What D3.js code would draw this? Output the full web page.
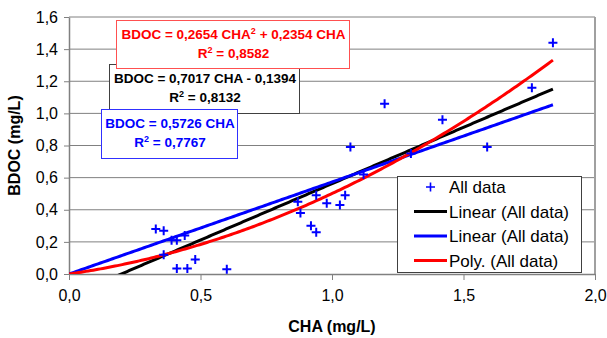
<!DOCTYPE html>
<html>
<head>
<meta charset="utf-8">
<script src="https://cdn.jsdelivr.net/npm/d3@7"></script>
<style>
  body { margin: 0; background: #fff; }
  svg { font-family: "Liberation Sans", Arial, sans-serif; }
</style>
</head>
<body>
<svg id="chart" width="607" height="338"></svg>
<script>
// measured values (CHA vs BDOC, mg/L)
var cha = [0.33, 0.36, 0.39, 0.41, 0.44, 0.36, 0.41, 0.45, 0.48, 0.60,
           0.87, 0.88, 0.92, 0.94, 0.94, 0.98, 1.03, 1.05, 1.07, 1.12,
           1.20, 1.30, 1.42, 1.59, 1.76, 1.84];
var bdoc = [0.28, 0.27, 0.21, 0.21, 0.24, 0.12, 0.035, 0.035, 0.09, 0.03,
            0.45, 0.38, 0.30, 0.26, 0.49, 0.44, 0.43, 0.49, 0.79, 0.62,
            1.06, 0.75, 0.96, 0.79, 1.16, 1.44];

// trend line coefficients, as printed on the chart
var linFit = [0.7017, -0.1394];   // slope, intercept
var propFit = [0.5726];           // through origin
var polyFit = [0.2654, 0.2354];   // a*x^2 + b*x

var xTicks = [0, 0.5, 1.0, 1.5, 2.0];
var yTicks = [0, 0.2, 0.4, 0.6, 0.8, 1.0, 1.2, 1.4, 1.6];

var legendLabels = ["All data", "Linear (All data)", "Linear (All data)", "Poly. (All data)"];

var margin = { top: 17, right: 12, bottom: 64, left: 69 },
    width = 607 - margin.left - margin.right,
    height = 338 - margin.top - margin.bottom;

var svg = d3.select("#chart");
var g = svg.append("g")
    .attr("transform", "translate(" + margin.left + "," + margin.top + ")");

var x = d3.scaleLinear().domain([0, 2]).range([0, width]);
var y = d3.scaleLinear().domain([0, 1.6]).range([height, 0]);

var comma = function (v) { return d3.format(".1f")(v).replace(".", ","); };

// grid lines
g.selectAll(".grid")
    .data(yTicks.filter(function (d) { return d > 0; }))
    .enter().append("line")
    .attr("x1", 0).attr("x2", width)
    .attr("y1", function (d) { return y(d); })
    .attr("y2", function (d) { return y(d); })
    .attr("stroke", "#808080").attr("stroke-width", 1);

// right border of plot area
g.append("line")
    .attr("x1", width).attr("x2", width)
    .attr("y1", 0).attr("y2", height)
    .attr("stroke", "#a0a0a0").attr("stroke-width", 2);

// axes
var xAxis = g.append("g")
    .attr("transform", "translate(0," + height + ")")
    .call(d3.axisBottom(x).tickValues(xTicks).tickFormat(comma).tickSizeOuter(0).tickSizeInner(6).tickPadding(10));
var yAxis = g.append("g")
    .call(d3.axisLeft(y).tickValues(yTicks).tickFormat(comma).tickSizeOuter(0).tickSizeInner(5).tickPadding(6));

[xAxis, yAxis].forEach(function (a) {
    a.select(".domain").attr("stroke", "#808080").attr("stroke-width", 1.5);
    a.selectAll(".tick line").attr("stroke", "#808080");
    a.selectAll("text").attr("font-size", 16).attr("fill", "#000")
        .attr("font-family", "Liberation Sans, Arial, sans-serif");
});

// axis titles
svg.append("text")
    .attr("x", 332).attr("y", 332)
    .attr("text-anchor", "middle")
    .attr("font-size", 16).attr("font-weight", "bold")
    .text("CHA (mg/L)");
svg.append("text")
    .attr("transform", "translate(20," + (margin.top + height / 2) + ") rotate(-90)")
    .attr("text-anchor", "middle")
    .attr("font-size", 16).attr("font-weight", "bold")
    .text("BDOC (mg/L)");

// clip for trend lines
svg.append("defs").append("clipPath").attr("id", "plotclip")
    .append("rect").attr("x", 0).attr("y", 0).attr("width", width).attr("height", height);

var xMax = d3.max(cha);
var xs = d3.range(0, 201).map(function (i) { return xMax * i / 200; });

var trends = [
    { color: "#000000", f: function (v) { return linFit[0] * v + linFit[1]; } },
    { color: "#0000ff", f: function (v) { return propFit[0] * v; } },
    { color: "#ff0000", f: function (v) { return polyFit[0] * v * v + polyFit[1] * v; } }
];

var line = d3.line()
    .x(function (d) { return x(d[0]); })
    .y(function (d) { return y(d[1]); });

var tg = g.append("g").attr("clip-path", "url(#plotclip)");

// markers
var pts = g.append("g");
pts.selectAll("path")
    .data(d3.zip(cha, bdoc))
    .enter().append("path")
    .attr("d", function (d) {
        var cx = x(d[0]), cy = y(d[1]), r = 4.5;
        return "M" + (cx - r) + "," + cy + "H" + (cx + r) + "M" + cx + "," + (cy - r) + "V" + (cy + r);
    })
    .attr("stroke", "#0000ff").attr("stroke-width", 2).attr("fill", "none");

trends.forEach(function (t) {
    tg.append("path")
        .datum(xs.map(function (v) { return [v, t.f(v)]; }))
        .attr("d", line)
        .attr("fill", "none")
        .attr("stroke", t.color)
        .attr("stroke-width", 3);
});

// equation labels
var eqBoxes = [
    { x: 109, y: 64, w: 190, h: 49, border: "#404040", color: "#000000",
      l1: ["BDOC = 0,7017 CHA - 0,1394"], r2: "0,8132" },
    { x: 116, y: 20, w: 233, h: 48, border: "#ff5050", color: "#ff0000",
      l1: ["BDOC = 0,2654 CHA", "2", " + 0,2354 CHA"], r2: "0,8582" },
    { x: 101, y: 109, w: 136, h: 49, border: "#3030ff", color: "#0000ff",
      l1: ["BDOC = 0,5726 CHA"], r2: "0,7767" }
];

eqBoxes.forEach(function (b) {
    var bg = svg.append("g");
    bg.append("rect")
        .attr("x", b.x + 0.5).attr("y", b.y + 0.5)
        .attr("width", b.w).attr("height", b.h)
        .attr("fill", "#fff").attr("stroke", b.border).attr("stroke-width", 1);
    var t1 = bg.append("text")
        .attr("x", b.x + b.w / 2 + 1).attr("y", b.y + 19)
        .attr("text-anchor", "middle")
        .attr("font-size", 13.5).attr("font-weight", "bold")
        .attr("fill", b.color);
    b.l1.forEach(function (s, i) {
        var ts = t1.append("tspan").text(s);
        if (i === 1) ts.attr("font-size", 9).attr("dy", -5);
        if (i === 2) ts.attr("dy", 5);
    });
    var t2 = bg.append("text")
        .attr("x", b.x + b.w / 2 + 1).attr("y", b.y + 38)
        .attr("text-anchor", "middle")
        .attr("font-size", 13.5).attr("font-weight", "bold")
        .attr("fill", b.color);
    t2.append("tspan").text("R");
    t2.append("tspan").text("2").attr("font-size", 9).attr("dy", -5);
    t2.append("tspan").text(" = " + b.r2).attr("dy", 5);
});

// legend
var lg = svg.append("g").attr("transform", "translate(397,176)");
lg.append("rect")
    .attr("x", 0.5).attr("y", 0.5).attr("width", 184).attr("height", 96)
    .attr("fill", "#fff").attr("stroke", "#404040").attr("stroke-width", 1);

var legColors = ["#0000ff", "#000000", "#0000ff", "#ff0000"];
legendLabels.forEach(function (lab, i) {
    var cy = 11 + i * 24.5;
    if (i === 0) {
        lg.append("path")
            .attr("d", "M29," + cy + "H38M33.5," + (cy - 4.5) + "V" + (cy + 4.5))
            .attr("stroke", legColors[i]).attr("stroke-width", 1.6);
    } else {
        lg.append("line")
            .attr("x1", 17).attr("x2", 50)
            .attr("y1", cy).attr("y2", cy)
            .attr("stroke", legColors[i]).attr("stroke-width", 3);
    }
    lg.append("text")
        .attr("x", 52).attr("y", cy + 6)
        .attr("font-size", 17).attr("fill", "#000")
        .text(lab);
});
</script>
</body>
</html>
